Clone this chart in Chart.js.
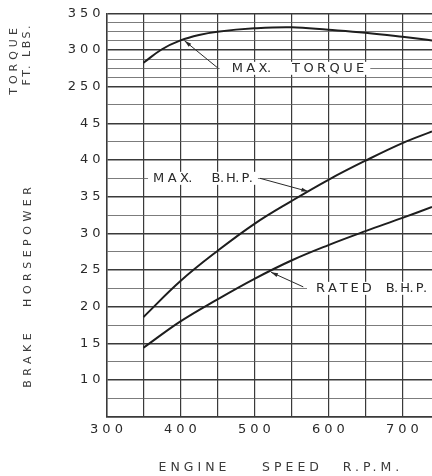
<!DOCTYPE html>
<html>
<head>
<meta charset="utf-8">
<script src="https://cdn.jsdelivr.net/npm/chart.js@4/dist/chart.umd.min.js"></script>
<style>
  html, body { margin: 0; padding: 0; background: #fff; }
  canvas { display: block; }
</style>
</head>
<body>
<canvas id="perf" width="432" height="476"></canvas>
<script>
// Engine performance: torque and brake horsepower against engine speed
const torqueRpm  = [350,   375,   400,   425,   450,   500,   550,   600,   650,   700,   740];
const maxTorque  = [282.5, 301,   313,   320.5, 325,   329.5, 331,   327.5, 323.5, 318,   313];

const rpm        = [350,   400,   450,   500,   550,   600,   650,   700,   740];
const maxBhp     = [18.6,  23.5,  27.6,  31.3,  34.4,  37.3,  39.9,  42.3,  43.9];
const ratedBhp   = [14.4,  18.0,  21.0,  23.8,  26.3,  28.4,  30.3,  32.1,  33.6];

const rpmLabels    = [300, 400, 500, 600, 700];
const hpLabels     = [10, 15, 20, 25, 30, 35, 40, 45];
const torqueLabels = [250, 300, 350];

// Shared vertical frame: horsepower 5..60 and torque -200..350 use the same height,
// so torque 250 sits where horsepower 50 would be.
const HP_MIN = 5, HP_MAX = 60;
const T_MIN = -200, T_MAX = 350;
const RPM_MIN = 300, RPM_MAX = 740;

const FONT = '"DejaVu Sans", "Liberation Sans", sans-serif';
const INK = '#2a2a2a';
const GRID_MAJOR = '#3a3a3a';
const GRID_MINOR = '#5a5a5a';

const hpToTorque = v => T_MIN + (v - HP_MIN) * (T_MAX - T_MIN) / (HP_MAX - HP_MIN);
const near = (a, b) => Math.abs(a - b) < 1e-6;

function setSpacing(ctx, px) {
  if ('letterSpacing' in ctx) ctx.letterSpacing = px + 'px';
}

// Draws stencil-style lettering one glyph at a time: open tracking between letters,
// tight around the periods, and a fixed gap between words. Returns the end x.
function drawTracked(ctx, text, x, y, track, wordGap) {
  let cx = x;
  const words = text.split(' ');
  words.forEach((word, wi) => {
    for (let i = 0; i < word.length; i++) {
      const ch = word[i];
      const next = word[i + 1];
      ctx.fillText(ch, cx, y);
      const adv = ctx.measureText(ch).width;
      if (next === undefined) { cx += adv; break; }
      if (next === '.') cx += adv - 0.5;
      else if (ch === '.') cx += adv + 2;
      else cx += adv + track;
    }
    if (wi < words.length - 1) cx += wordGap;
  });
  return cx;
}

// Callouts: label text, where it sits, and a leader line ending in an arrow on the curve
const callouts = [
  { text: 'MAX. TORQUE', axis: 'yT', at: [469.2, 275], padL: 12, padR: 6,
    track: 3.4, gap: 21, from: [451, 275], tip: [405.5, 312.5] },
  { text: 'MAX. B.H.P.', axis: 'y', at: [362.9, 37.5], padL: 5, padR: 5,
    track: 3.4, gap: 19, from: [507.5, 37.5], tip: [572.8, 35.7] },
  { text: 'RATED B.H.P.', axis: 'y', at: [583.2, 22.5], padL: 9, padR: 20,
    track: 2.9, gap: 14, from: [566, 22.7], tip: [522.4, 24.7] }
];

const paperPlugin = {
  id: 'paper',
  beforeDraw(chart) {
    const ctx = chart.ctx;
    ctx.save();
    ctx.fillStyle = '#ffffff';
    ctx.fillRect(0, 0, chart.width, chart.height);
    ctx.restore();
    // spaced lettering for the tick numbers
    setSpacing(ctx, 4);
  }
};

const lettering = {
  id: 'lettering',
  afterDatasetsDraw(chart) {
    const ctx = chart.ctx;
    const xs = chart.scales.x;

    // callout labels with leaders
    callouts.forEach(c => {
      const ys = chart.scales[c.axis];
      ctx.save();
      ctx.font = '13px ' + FONT;
      setSpacing(ctx, 0);
      const tx = xs.getPixelForValue(c.at[0]);
      const ty = ys.getPixelForValue(c.at[1]);

      // measure first (draw invisibly), then paint the backing and the text
      ctx.globalAlpha = 0;
      const end = drawTracked(ctx, c.text, tx, ty, c.track, c.gap);
      ctx.globalAlpha = 1;
      ctx.fillStyle = '#ffffff';
      ctx.fillRect(tx - c.padL, ty - 6.5, end - tx + c.padL + c.padR, 13);
      ctx.fillStyle = INK;
      ctx.textAlign = 'left';
      ctx.textBaseline = 'middle';
      drawTracked(ctx, c.text, tx, ty + 0.5, c.track, c.gap);

      const x0 = xs.getPixelForValue(c.from[0]);
      const y0 = ys.getPixelForValue(c.from[1]);
      const x1 = xs.getPixelForValue(c.tip[0]);
      const y1 = ys.getPixelForValue(c.tip[1]);
      ctx.strokeStyle = INK;
      ctx.lineWidth = 1;
      ctx.beginPath();
      ctx.moveTo(x0, y0);
      ctx.lineTo(x1, y1);
      ctx.stroke();
      const ang = Math.atan2(y1 - y0, x1 - x0);
      const len = 7, half = 2;
      ctx.beginPath();
      ctx.moveTo(x1, y1);
      ctx.lineTo(x1 - len * Math.cos(ang) + half * Math.sin(ang),
                 y1 - len * Math.sin(ang) - half * Math.cos(ang));
      ctx.lineTo(x1 - len * Math.cos(ang) - half * Math.sin(ang),
                 y1 - len * Math.sin(ang) + half * Math.cos(ang));
      ctx.closePath();
      ctx.fillStyle = INK;
      ctx.fill();
      ctx.restore();
    });

    // axis titles
    ctx.save();
    ctx.fillStyle = '#3a3a3a';
    ctx.textBaseline = 'middle';
    ctx.textAlign = 'center';

    ctx.font = '12.5px ' + FONT;
    setSpacing(ctx, 4);
    [['ENGINE', 192.5], ['SPEED', 290.5], ['R.P.M.', 371]].forEach(([t, x]) => {
      ctx.fillText(t, x + 2, 468);
    });

    ctx.font = '11px ' + FONT;
    const rotated = [
      ['TORQUE', 14.5, 61.5, 4],
      ['FT. LBS.', 27.5, 55.5, 2.5],
      ['HORSEPOWER', 28.5, 247, 4.5],
      ['BRAKE', 28.5, 360.5, 4.5]
    ];
    rotated.forEach(([t, x, y, ls]) => {
      ctx.save();
      setSpacing(ctx, ls);
      ctx.translate(x, y);
      ctx.rotate(-Math.PI / 2);
      ctx.fillText(t, ls / 2, 0);
      ctx.restore();
    });
    ctx.restore();
  }
};

const curve = (label, xs, data, axis) => ({
  label,
  data: xs.map((r, i) => ({ x: r, y: data[i] })),
  yAxisID: axis,
  borderColor: '#1e1e1e',
  borderWidth: 2,
  pointRadius: 0,
  fill: false,
  tension: 0.4
});

new Chart(document.getElementById('perf'), {
  type: 'line',
  data: {
    datasets: [
      curve('Max. torque', torqueRpm, maxTorque, 'yT'),
      curve('Max. B.H.P.', rpm, maxBhp, 'y'),
      curve('Rated B.H.P.', rpm, ratedBhp, 'y')
    ]
  },
  options: {
    responsive: false,
    devicePixelRatio: 1,
    animation: false,
    events: [],
    layout: { padding: { top: 13.3, left: 0, right: 0, bottom: 0 } },
    plugins: { legend: { display: false }, tooltip: { enabled: false } },
    scales: {
      x: {
        type: 'linear',
        min: RPM_MIN,
        max: RPM_MAX,
        afterBuildTicks(scale) {
          const t = [];
          for (let v = RPM_MIN; v <= RPM_MAX; v += 50) t.push({ value: v });
          scale.ticks = t;
        },
        afterFit(scale) { scale.height = 59.3; },
        ticks: {
          autoSkip: false,
          maxRotation: 0,
          padding: 5,
          labelOffset: 2,
          color: INK,
          font: { family: FONT, size: 13 },
          callback: v => rpmLabels.includes(v) ? String(v) : ''
        },
        grid: { color: GRID_MAJOR, lineWidth: 1.2, drawTicks: false },
        border: { display: true, color: GRID_MAJOR, width: 1.5 }
      },
      y: {
        type: 'linear',
        position: 'left',
        min: HP_MIN,
        max: HP_MAX,
        afterBuildTicks(scale) {
          const t = [];
          for (let v = HP_MIN; v <= HP_MAX + 1e-9; v += 2.5) t.push({ value: v });
          for (let v = 51.25; v < HP_MAX; v += 2.5) t.push({ value: v });
          t.sort((a, b) => a.value - b.value);
          scale.ticks = t;
        },
        afterFit(scale) { scale.width = 106.5; },
        ticks: {
          autoSkip: false,
          padding: 2,
          color: INK,
          font: { family: FONT, size: 13 },
          callback: v => {
            if (v <= 45 && hpLabels.some(h => near(h, v))) return String(v);
            const t = hpToTorque(v);
            if (v >= 50 && torqueLabels.some(q => near(q, t))) return String(Math.round(t));
            return '';
          }
        },
        grid: {
          drawTicks: false,
          color: c => (c.tick && near(c.tick.value % 5, 0)) ? GRID_MAJOR : GRID_MINOR,
          lineWidth: c => (c.tick && near(c.tick.value % 5, 0)) ? 1.5 : 0.8
        },
        border: { display: true, color: GRID_MAJOR, width: 1.5 }
      },
      yT: {
        type: 'linear',
        display: false,
        min: T_MIN,
        max: T_MAX
      }
    }
  },
  plugins: [paperPlugin, lettering]
});
</script>
</body>
</html>
